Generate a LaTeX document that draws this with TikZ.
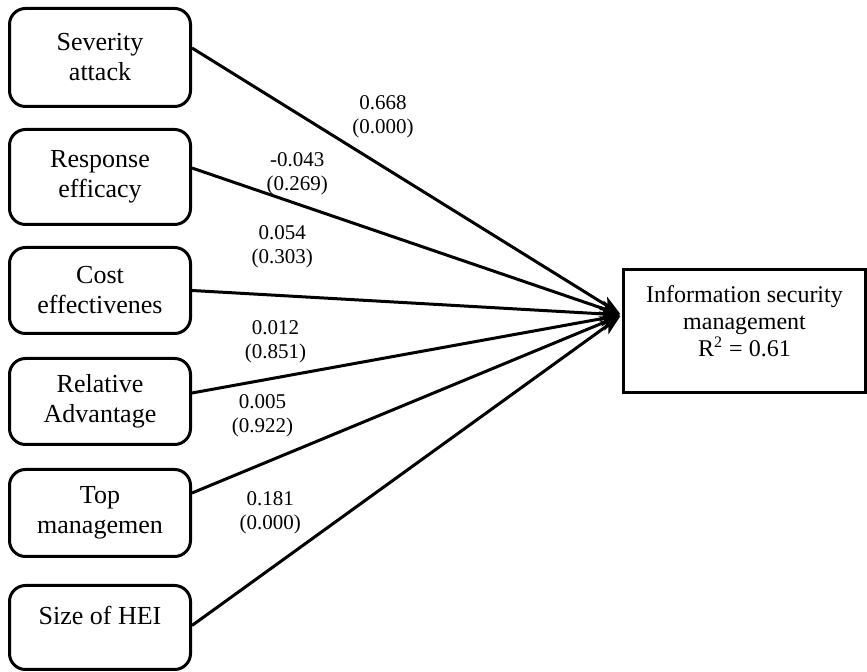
\documentclass[tikz,border=0pt]{standalone}
\usepackage{fontspec}
\setmainfont{Liberation Serif}
\usetikzlibrary{positioning,arrows.meta}

\begin{document}
\begin{tikzpicture}[>={Stealth[length=10pt,width=7.5pt,inset=2.5pt]},line width=1.5pt,node distance=10pt,
	factor/.style={draw,rounded corners=8pt,minimum width=90.5pt,inner sep=2pt,align=center,font=\fontsize{13}{15}\selectfont},
	coef/.style={align=center,inner sep=0pt,font=\fontsize{10.5}{12}\selectfont}]
		\useasboundingbox (0,0) rectangle (433.5pt,-336pt);
		\node[factor,minimum height=49pt] (sev) at (50pt,-28.75pt) {Severity\\attack};
		\node[factor,minimum height=47.5pt] (res) [below=of sev] {Response\\efficacy};
		\node[factor,minimum height=43pt] (cost) [below=of res] {Cost\\effectivenes};
		\node[factor,minimum height=43pt] (rel) [below=11pt of cost] {Relative\\Advantage};
		\node[factor,minimum height=43.5pt] (top) [below=11pt of rel] {Top\\managemen};
		\node[factor,minimum height=42pt,text depth=12pt] (size) [below=13pt of top] {Size of HEI};
		\node[draw,minimum width=121pt,minimum height=61.5pt,align=center,text depth=10pt,
			font=\fontsize{12}{13.5}\selectfont] (ism) at (372.25pt,-165.5pt)
			{Information security\\management\\R\textsuperscript{2} = 0.61};
		\coordinate (hub) at ([yshift=8pt]ism.west);
	
		\path[->,shorten >=1pt]
				([yshift=4.75pt]sev.east) edge node[coef,pos=0.444,yshift=24.75pt]{0.668\\(0.000)} (hub)
				([yshift=4.5pt]res.east) edge node[coef,pos=0.245,yshift=15pt]{-0.043\\(0.269)} (hub)
				(cost.east) edge node[coef,pos=0.21,yshift=24.5pt]{0.054\\(0.303)} (hub)
				([yshift=4.25pt]rel.east) edge node[coef,pos=0.194,yshift=18pt]{0.012\\(0.851)} (hub)
				([yshift=10pt]top.east) edge node[coef,pos=0.164,yshift=24pt]{0.005\\(0.922)} (hub)
				([yshift=1pt]size.east) edge node[coef,pos=0.182,yshift=28pt]{0.181\\(0.000)} (hub);
	\end{tikzpicture}
\end{document}
